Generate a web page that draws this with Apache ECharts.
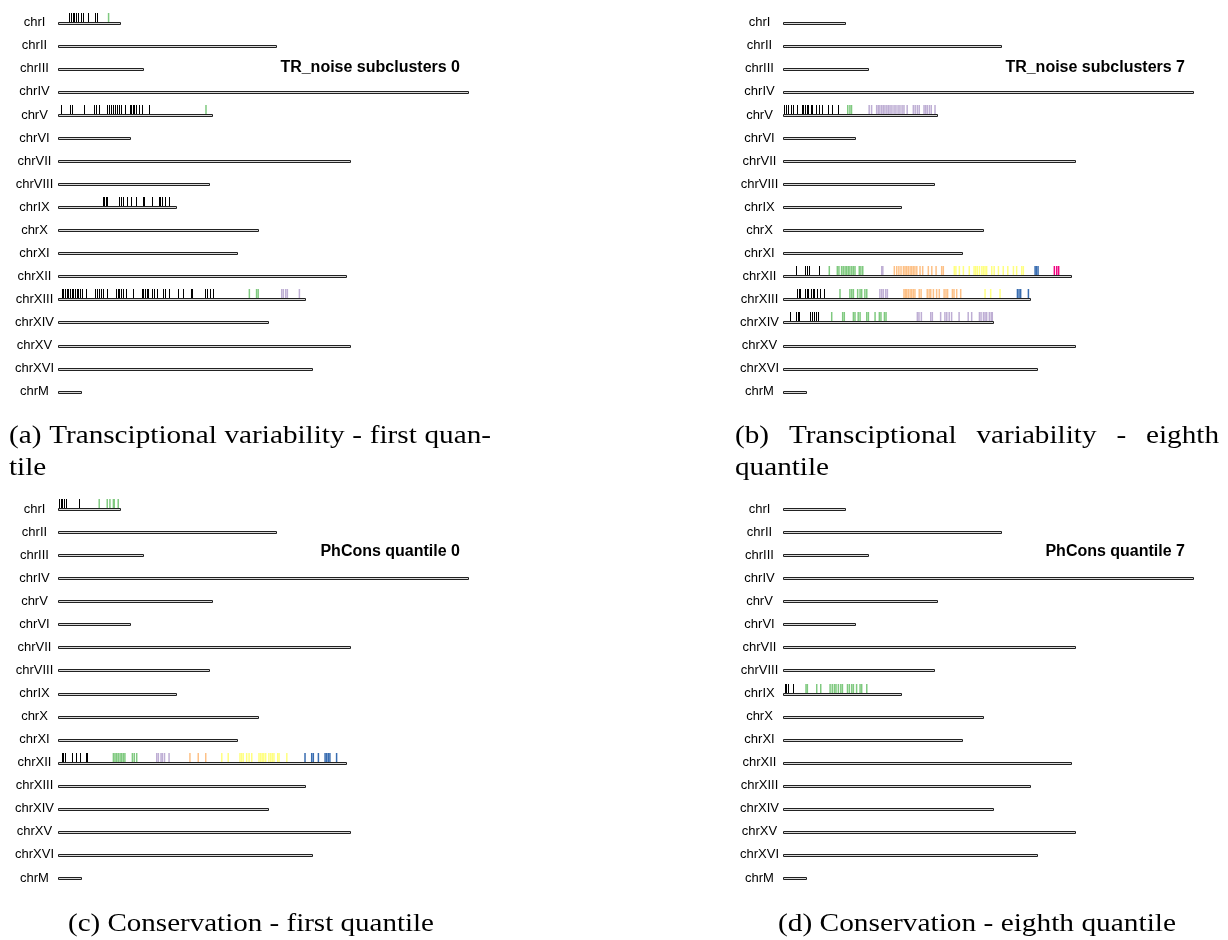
<!DOCTYPE html>
<html><head><meta charset="utf-8">
<script src="https://cdn.jsdelivr.net/npm/echarts@6/dist/echarts.min.js"></script>
<style>html,body{margin:0;padding:0;background:#fff}#chart{width:1228px;height:940px}</style>
</head><body><div id="chart"></div><script>
// ---------- data ----------
const chromosomes = ['chrI','chrII','chrIII','chrIV','chrV','chrVI','chrVII','chrVIII','chrIX','chrX','chrXI','chrXII','chrXIII','chrXIV','chrXV','chrXVI','chrM'];
const chromLengthsKb = [230, 813, 317, 1532, 577, 270, 1091, 563, 440, 746, 667, 1078, 924, 784, 1091, 948, 86];
// cluster colours: 0 black, 1 green, 2 purple, 3 orange, 4 yellow, 5 blue, 6 pink
const clusterColors = ['#000000','#7FC97F','#BEAED4','#FDC086','#FFFF80','#386CB0','#F0027F'];

const panelTitles = ['TR_noise subclusters 0','TR_noise subclusters 7','PhCons quantile 0','PhCons quantile 7'];

// Panel (a) – positions in kb
const a_chrI_0 = [42, 49, 55, 61, 67, 76, 85, 94, 113, 138, 145];
const a_chrI_1 = [189];
const a_chrV_0 = [11, 45, 53, 98, 135, 143, 152, 182, 189, 197, 204, 212, 220, 228, 237, 249, 269, 274, 279, 285, 293, 303, 314, 341];
const a_chrV_1 = [553];
const a_chrIX_0 = [169, 173, 178, 183, 229, 234, 243, 257, 273, 291, 319, 322, 350, 377, 382, 390, 400, 416];
const a_chrXIII_0 = [14, 20, 26, 33, 38, 45, 51, 57, 64, 70, 76, 82, 89, 105, 138, 146, 153, 161, 169, 182, 217, 223, 229, 235, 242, 254, 279, 313, 319, 325, 331, 338, 350, 359, 369, 391, 401, 416, 450, 466, 496, 501, 549, 558, 568, 578];
const a_chrXIII_1 = [715, 742, 748];
const a_chrXIII_2 = [836, 842, 851, 857, 902];

// Panel (b)
const b_chrV_0 = [5, 11, 20, 29, 38, 53, 70, 76, 82, 89, 95, 104, 110, 125, 135, 145, 167, 184, 207];
const b_chrV_1 = [242, 250, 256];
const b_chrV_2 = [322, 331, 350, 356, 362, 369, 375, 381, 388, 394, 400, 407, 415, 422, 430, 437, 445, 452, 464, 487, 494, 502, 509, 527, 533, 539, 547, 554, 568];
const b_chrXII_0 = [49, 82, 89, 98, 135];
const b_chrXII_1 = [173, 203, 209, 219, 225, 232, 238, 244, 250, 257, 263, 269, 285, 291, 298];
const b_chrXII_2 = [369, 373];
const b_chrXII_3 = [416, 425, 433, 441, 450, 456, 462, 468, 475, 481, 487, 493, 500, 512, 522, 543, 556, 572, 593, 599];
const b_chrXII_4 = [640, 646, 659, 674, 696, 714, 720, 726, 734, 743, 749, 755, 761, 780, 789, 805, 823, 840, 861, 873, 892, 898];
const b_chrXII_5 = [942, 947, 953];
const b_chrXII_6 = [1014, 1023, 1030];
const b_chrXIII_0 = [53, 59, 64, 82, 89, 95, 105, 111, 117, 126, 138, 153];
const b_chrXIII_1 = [213, 250, 257, 263, 279, 288, 294, 306, 313];
const b_chrXIII_2 = [362, 369, 375, 384, 390];
const b_chrXIII_3 = [452, 457, 462, 468, 475, 481, 487, 493, 509, 516, 539, 546, 552, 562, 574, 584, 602, 609, 615, 633, 639, 649, 664];
const b_chrXIII_4 = [755, 776, 811];
const b_chrXIII_5 = [876, 882, 888, 917];
const b_chrXIV_0 = [26, 49, 55, 61, 101, 107, 117, 123, 129];
const b_chrXIV_1 = [182, 223, 229, 263, 269, 281, 288, 313, 319, 344, 360, 366, 379, 385];
const b_chrXIV_2 = [502, 508, 517, 552, 558, 589, 605, 612, 621, 630, 658, 692, 705, 734, 740, 749, 755, 761, 771, 778, 782];

// Panel (c)
const c_chrI_0 = [4, 10, 16, 22, 30, 77];
const c_chrI_1 = [154, 184, 194, 207, 210, 225];
const c_chrXII_0 = [14, 20, 26, 51, 66, 82, 103, 109];
const c_chrXII_1 = [207, 213, 219, 225, 232, 238, 244, 250, 278, 285, 294];
const c_chrXII_2 = [369, 375, 385, 390, 398, 415];
const c_chrXII_3 = [493, 524, 552];
const c_chrXII_4 = [612, 636, 680, 686, 692, 705, 714, 724, 751, 757, 763, 769, 776, 788, 795, 801, 807, 821, 826, 855];
const c_chrXII_5 = [923, 948, 954, 973, 998, 1004, 1010, 1016, 1041];

// Panel (d)
const d_chrIX_0 = [7, 11, 17, 36];
const d_chrIX_1 = [86, 91, 126, 141, 176, 184, 192, 198, 207, 216, 222, 241, 248, 257, 263, 275, 288, 294, 313];

const panelTracks = [
  [['chrI',0,a_chrI_0],['chrI',1,a_chrI_1],['chrV',0,a_chrV_0],['chrV',1,a_chrV_1],['chrIX',0,a_chrIX_0],
   ['chrXIII',0,a_chrXIII_0],['chrXIII',1,a_chrXIII_1],['chrXIII',2,a_chrXIII_2]],
  [['chrV',0,b_chrV_0],['chrV',1,b_chrV_1],['chrV',2,b_chrV_2],
   ['chrXII',0,b_chrXII_0],['chrXII',1,b_chrXII_1],['chrXII',2,b_chrXII_2],['chrXII',3,b_chrXII_3],['chrXII',4,b_chrXII_4],['chrXII',5,b_chrXII_5],['chrXII',6,b_chrXII_6],
   ['chrXIII',0,b_chrXIII_0],['chrXIII',1,b_chrXIII_1],['chrXIII',2,b_chrXIII_2],['chrXIII',3,b_chrXIII_3],['chrXIII',4,b_chrXIII_4],['chrXIII',5,b_chrXIII_5],
   ['chrXIV',0,b_chrXIV_0],['chrXIV',1,b_chrXIV_1],['chrXIV',2,b_chrXIV_2]],
  [['chrI',0,c_chrI_0],['chrI',1,c_chrI_1],
   ['chrXII',0,c_chrXII_0],['chrXII',1,c_chrXII_1],['chrXII',2,c_chrXII_2],['chrXII',3,c_chrXII_3],['chrXII',4,c_chrXII_4],['chrXII',5,c_chrXII_5]],
  [['chrIX',0,d_chrIX_0],['chrIX',1,d_chrIX_1]]
];

const captionA = ['(a) Transciptional variability - first quan-', 'tile'];
const captionB = ['(b) Transciptional variability - eighth', 'quantile'];
const captionC = '(c) Conservation - first quantile';
const captionD = '(d) Conservation - eighth quantile';

// ---------- layout ----------
const gridLefts = [58, 783, 58, 783];
const gridTops = [11.2, 11.2, 497.5, 497.5];
const gridWidth = 410, gridHeight = 392;
const titleRight = [460, 1185, 460, 1185];
const titleY = [68, 68, 552, 552];
const SANS = '"Liberation Sans", Arial, Helvetica, sans-serif';
const SERIF_FONT = '25px "Liberation Serif"';

const chart = echarts.init(document.getElementById('chart'), null, {renderer: 'canvas'});

const grids = [], xAxes = [], yAxes = [], series = [];
for (let i = 0; i < 4; i++) {
  grids.push({left: gridLefts[i], top: gridTops[i], width: gridWidth, height: gridHeight});
  xAxes.push({type: 'value', gridIndex: i, min: 0, max: chromLengthsKb[3], show: false});
  yAxes.push({type: 'category', gridIndex: i, data: chromosomes, inverse: true,
    axisLine: {show: false}, axisTick: {show: false}, splitLine: {show: false},
    axisLabel: {margin: 23.5, align: 'center', fontSize: 13, fontFamily: SANS, color: '#000'}});
  series.push({
    type: 'custom', xAxisIndex: i, yAxisIndex: i, z: 2, silent: true,
    data: chromosomes.map((c, j) => [chromLengthsKb[j], c]),
    encode: {x: 0, y: 1},
    renderItem: function (params, api) {
      const e = api.coord([api.value(0), api.value(1)]);
      const s = api.coord([0, api.value(1)]);
      const r0 = Math.round(s[1]) - 1;
      const x0 = Math.round(s[0]) + 0.5;
      return {type: 'rect', shape: {x: x0, y: r0 + 0.5, width: Math.round(e[0] - s[0]), height: 2},
        style: {fill: '#d8d8d8', stroke: '#222', lineWidth: 1}};
    }
  });
  const tickData = [];
  panelTracks[i].forEach(t => t[2].forEach(kb => tickData.push([kb, t[0], t[1]])));
  series.push({
    type: 'custom', xAxisIndex: i, yAxisIndex: i, z: 3, silent: true,
    data: tickData,
    encode: {x: 0, y: 1},
    renderItem: function (params, api) {
      const p = api.coord([api.value(0), api.value(1)]);
      const r0 = Math.round(p[1]) - 1;
      const c = api.value(2);
      const x = c === 0 ? Math.round(p[0]) + 0.5 : p[0];
      return {type: 'line', shape: {x1: x, y1: r0 - 9, x2: x, y2: r0},
        style: {stroke: clusterColors[c], lineWidth: c === 0 ? 1 : 1.5}};
    }
  });
}

// ---------- text graphics ----------
const graphic = [];
for (let i = 0; i < 4; i++) {
  graphic.push({type: 'text', x: titleRight[i], y: titleY[i],
    style: {text: panelTitles[i], font: 'bold 16px ' + SANS, fill: '#000', textAlign: 'right', textVerticalAlign: 'middle'}});
}
const ctx = document.createElement('canvas').getContext('2d');
ctx.font = SERIF_FONT;
const mw = t => ctx.measureText(t).width;
const sC = 366 / mw(captionC), sD = 398 / mw(captionD);
const S = (sC + sD) / 2;
function serifText(text, x, y, align, sx) {
  return {type: 'text', x: x, y: y, scaleX: sx,
    style: {text: text, x: 0, y: 0, font: SERIF_FONT, fill: '#000', textAlign: align, textVerticalAlign: 'middle'}};
}
function justified(line, x0, x1, y) {
  const words = line.split(' ');
  const ws = words.map(w => mw(w) * S);
  const gap = (x1 - x0 - ws.reduce((a, b) => a + b, 0)) / (words.length - 1);
  let x = x0;
  words.forEach((w, k) => { graphic.push(serifText(w, x, y, 'left', S)); x += ws[k] + gap; });
}
justified(captionA[0], 9, 491, 436);
graphic.push(serifText(captionA[1], 9, 468, 'left', S));
justified(captionB[0], 735, 1219, 436);
graphic.push(serifText(captionB[1], 735, 468, 'left', S));
graphic.push(serifText(captionC, 251, 924, 'center', sC));
graphic.push(serifText(captionD, 977, 924, 'center', sD));

chart.setOption({
  animation: false,
  backgroundColor: '#ffffff',
  grid: grids, xAxis: xAxes, yAxis: yAxes, series: series, graphic: graphic
});
</script></body></html>
